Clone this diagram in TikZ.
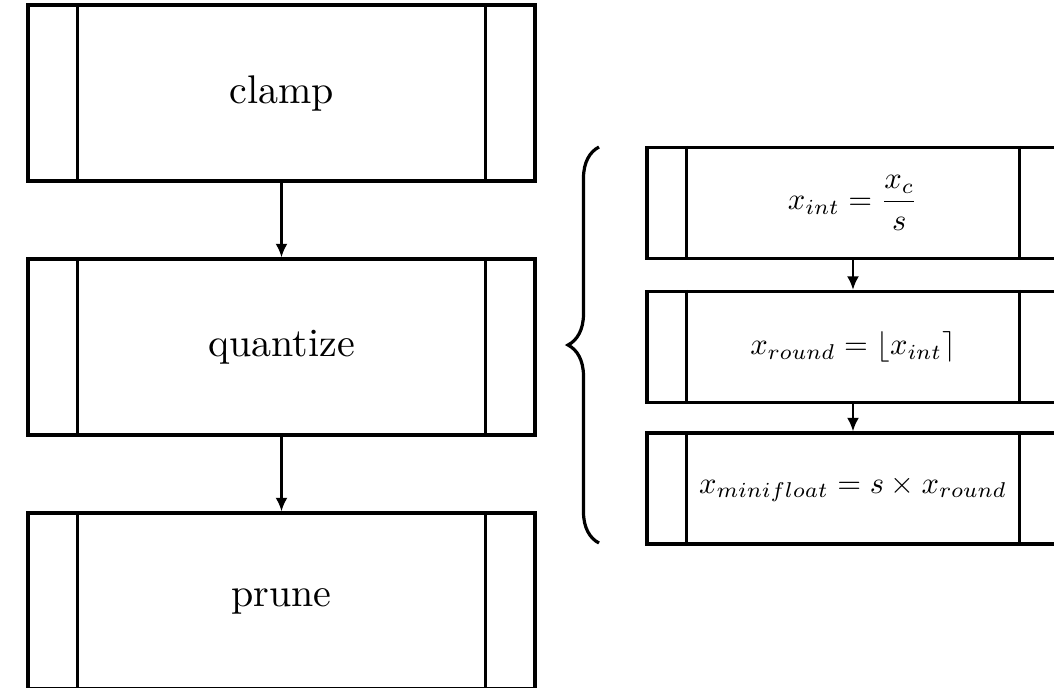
\documentclass[tikz,border=0pt]{standalone}
\usetikzlibrary{arrows.meta,decorations.pathreplacing}
\newcommand{\eqtext}[1]{\scalebox{0.765}{#1}}
\begin{document}
\begin{tikzpicture}[x=0.25pt,y=-0.25pt,
  box/.style={draw,thick,rectangle,inner sep=0pt},
  lbox/.style={box,minimum width=126.75pt,minimum height=44pt},
  rbox/.style={box,minimum width=103pt,minimum height=27.75pt},
  conn/.style={semithick,-{Latex[length=3.4pt,width=3pt]}},
  side/.style={thick}]
\useasboundingbox (0,0) rectangle (1054,688);
\begin{scope}
\clip (0,0) rectangle (1054,688);
% left column
\node[lbox] (clamp) at (281.5,93) {clamp};
\node[lbox] (quant) at (281.5,347) {quantize};
\node[lbox] (prune) at (281.5,601) {prune};
\foreach \n in {clamp,quant,prune}{
  \draw[side] ([xshift=12.75pt]\n.north west) -- ([xshift=12.75pt]\n.south west);
  \draw[side] ([xshift=-12.75pt]\n.north east) -- ([xshift=-12.75pt]\n.south east);
}
\draw[conn] (clamp.south) -- (quant.north);
\draw[conn] (quant.south) -- (prune.north);
% right column
\node[rbox] (eqa) at (853,203) {\eqtext{$\displaystyle x_{int} = \frac{x_c}{s}$}};
\node[rbox] (eqb) at (853,347) {\eqtext{$x_{round} = \lfloor x_{int} \rceil$}};
\node[rbox] (eqc) at (853,488.5) {\eqtext{$x_{minifloat} = s \times x_{round}$}};
\foreach \n in {eqa,eqb,eqc}{
  \draw[side] ([xshift=10.25pt]\n.north west) -- ([xshift=10.25pt]\n.south west);
  \draw[side] ([xshift=-10.25pt]\n.north east) -- ([xshift=-10.25pt]\n.south east);
}
\draw[conn] (eqa.south) -- (eqb.north);
\draw[conn] (eqb.south) -- (eqc.north);
% brace
\coordinate (bb) at (599,543);
\coordinate (bt) at (599,147);
\draw[thick,decorate,decoration={brace,amplitude=7.75pt}] (bb) -- (bt);
\end{scope}
\end{tikzpicture}
\end{document}
